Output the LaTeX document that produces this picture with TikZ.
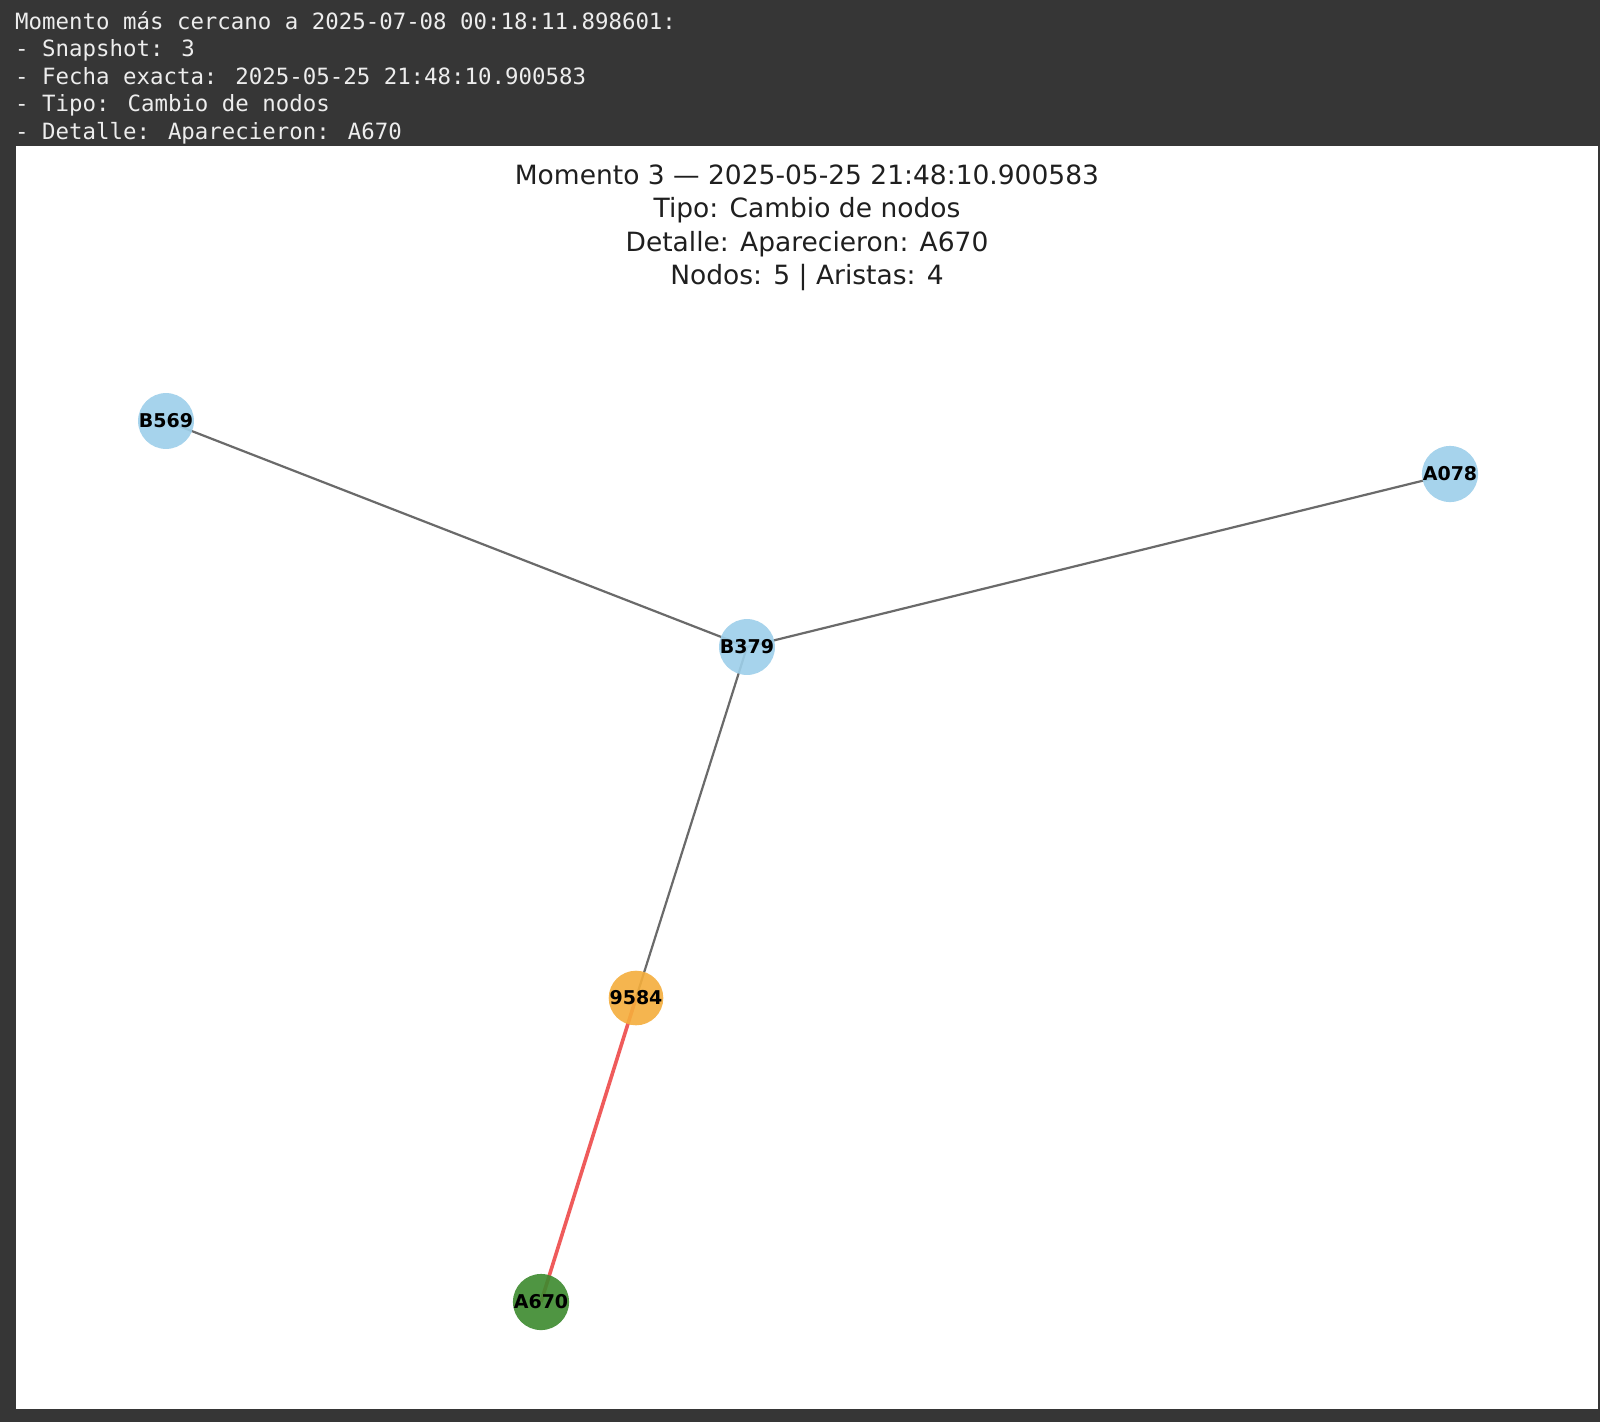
\documentclass[tikz,border=0pt]{standalone}
\usepackage{fontspec}
\setmainfont{DejaVu Sans}
\newfontfamily\monofont{DejaVu Sans Mono}
\definecolor{bgdark}{HTML}{363636}
\definecolor{hdrtext}{HTML}{EDEDED}
\definecolor{nblue}{HTML}{9DCFEA}
\definecolor{norange}{HTML}{F5AE3C}
\definecolor{ngreen}{HTML}{3C8A2E}
\definecolor{edgegray}{HTML}{6A6A6A}
\definecolor{edgered}{HTML}{EF5B5B}
\tikzset{
  gnode/.style={circle, minimum size=52pt, inner sep=0pt, fill opacity=0.9, text opacity=1,
    font=\fontsize{19}{21}\selectfont\bfseries, text=black},
  bluenode/.style={gnode, fill=nblue},
  orangenode/.style={gnode, fill=norange},
  greennode/.style={gnode, fill=ngreen},
  plainedge/.style={draw=edgegray, line width=2.2pt},
  newedge/.style={draw=edgered, line width=3.6pt},
  hdr/.style={anchor=base west, inner sep=0pt, text=hdrtext, font=\monofont\fontsize{22.4}{27.5}\selectfont},
  ttl/.style={anchor=base, inner sep=0pt, text=black!88, font=\fontsize{26.5}{33}\selectfont}
}
\begin{document}
\begin{tikzpicture}[x=1pt, y=-1pt]
\useasboundingbox (0,0) rectangle (1600,1422);
\fill[bgdark] (0,0) rectangle (1600,1422);
\fill[white] (16,146) rectangle (1598,1409);
% header
\node[hdr] (h1) at (15,29) {Momento más cercano a 2025-07-08 00:18:11.898601:};
\node[hdr] (h2) at (15,56.5) {- Snapshot: 3};
\node[hdr] (h3) at (15,84) {- Fecha exacta: 2025-05-25 21:48:10.900583};
\node[hdr] (h4) at (15,111.5) {- Tipo: Cambio de nodos};
\node[hdr] (h5) at (15,139) {- Detalle: Aparecieron: A670};
% title
\node[ttl] (t1) at (807,184) {Momento 3 — 2025-05-25 21:48:10.900583};
\node[ttl] (t2) at (807,217.5) {Tipo: Cambio de nodos};
\node[ttl] (t3) at (807,251) {Detalle: Aparecieron: A670};
\node[ttl] (t4) at (807,284) {Nodos: 5 | Aristas: 4};
% node positions
\coordinate (pB569) at (166,421);
\coordinate (pB379) at (747,647);
\coordinate (pA078) at (1450,474);
\coordinate (p9584) at (636,998);
\coordinate (pA670) at (541,1302);
% edges
\draw[plainedge] (pB569) -- (pB379);
\draw[plainedge] (pB379) -- (pA078);
\draw[plainedge] (pB379) -- (p9584);
\draw[newedge] (p9584) -- (pA670);
% nodes
\node[bluenode] (B569) at (pB569) {B569};
\node[bluenode] (B379) at (pB379) {B379};
\node[bluenode] (A078) at (pA078) {A078};
\node[orangenode] (n9584) at (p9584) {9584};
\node[greennode] (A670) at (pA670) {A670};
\end{tikzpicture}
\end{document}
